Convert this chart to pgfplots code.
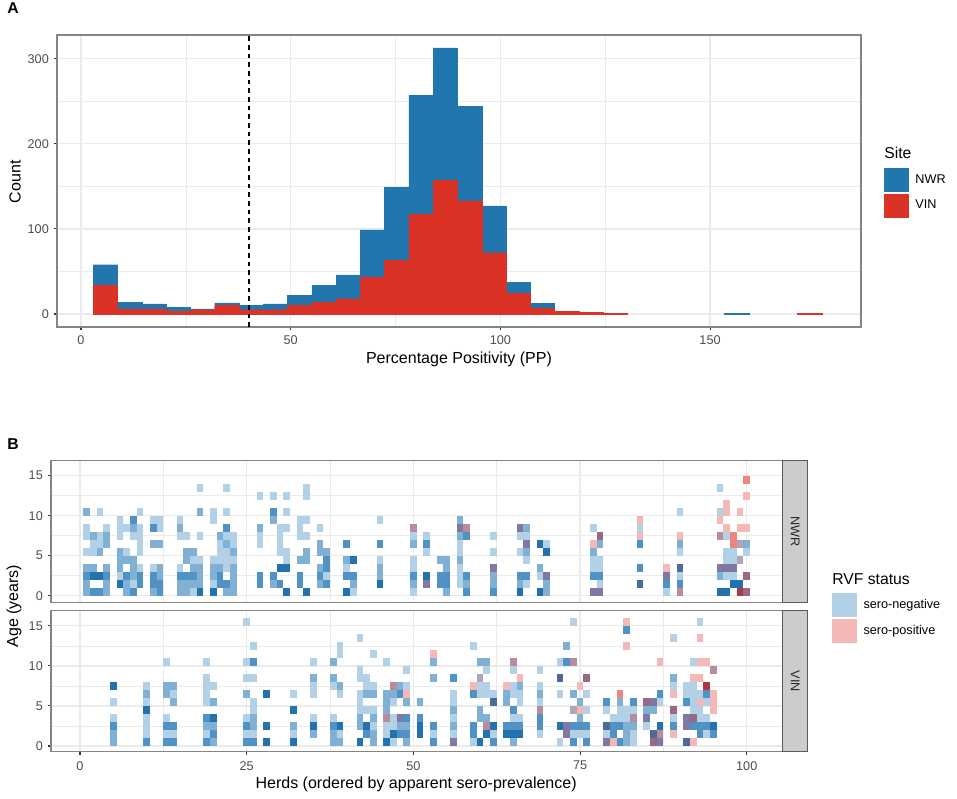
\documentclass[border=0pt]{standalone}
\usepackage{fontspec}
\setmainfont{Liberation Sans}
\usepackage{pgfplots}
\pgfplotsset{compat=1.18}
\usepackage{pgfplotstable}

\definecolor{nwrblue}{HTML}{2176AE}
\definecolor{vinred}{HTML}{DA3326}
\definecolor{gridc}{HTML}{EBEBEB}
\definecolor{framec}{HTML}{858585}
\definecolor{tickc}{HTML}{4D4D4D}
\definecolor{lightblue}{HTML}{B3D1E6}
\definecolor{lightred}{HTML}{F4B9B7}

\newcommand{\tickfont}{\fontsize{9.5}{11}\selectfont}
\newcommand{\labfont}{\fontsize{12}{14}\selectfont}
\newcommand{\ttlfont}{\fontsize{11.8}{14}\selectfont}

% one tile: one herd wide, one year high
\pgfdeclareplotmark{tile}{%
  \pgfpathrectangle{\pgfpoint{-2.5pt}{-3pt}}{\pgfpoint{5pt}{6pt}}%
  \pgfusepathqfill}

\pgfplotstableread{
x total vin
5.82 58 34
11.61 14 6
17.40 12 6
23.19 8 3
28.98 6 5
34.77 13 10
40.56 10 5
46.35 12 5
52.14 22 10
57.93 34 14
63.72 46 18
69.51 99 43
75.30 149 63
81.09 257 117
86.88 313 157
92.67 244 133
98.46 127 72
104.25 37 24
110.04 12.5 7
115.83 3 3
121.62 2 2
127.41 1 1
156.36 1 nan
173.73 1 1
}\histtable

\pgfplotsset{
  ggbase/.style={
    scale only axis,
    tick align=outside,
    tick pos=left,
    major tick length=2.6pt,
    minor tick length=0pt,
    tick style={color=tickc!70!black,line width=0.8pt},
    axis line style={color=framec,line width=0.85pt},
    grid=both,
    major grid style={color=gridc,line width=0.9pt},
    minor grid style={color=gridc,line width=0.45pt},
    minor tick num=1,
    tick label style={font=\tickfont,text=tickc},
    /pgf/number format/assume math mode=true,
    scaled ticks=false,
    xlabel style={font=\labfont},
    ylabel style={font=\labfont},
    legend cell align=left,
    legend style={draw=none,fill=none,inner sep=0pt,row sep=1.2pt,
      nodes={font=\tickfont,inner xsep=5.5pt,inner ysep=0pt}},
  },
  swatch/.style={legend image code/.code={\fill[#1] (0pt,-8.7pt) rectangle (17.5pt,8.7pt);}},
  tiles/.style={
    scatter,only marks,forget plot,mark=tile,
    point meta=explicit symbolic,
    scatter/classes={
      a={fill=lightblue},
      b={fill=HTMLb},
      c={fill=HTMLc},
      d={fill=HTMLd},
      p={fill=lightred},
      q={fill=HTMLq},
      u={fill=HTMLu},
      v={fill=HTMLv},
      w={fill=HTMLw},
      m={fill=HTMLm},
      k={fill=HTMLk},
      r={fill=HTMLr}
    }
  }
}
\definecolor{HTMLb}{HTML}{80B1D4}
\definecolor{HTMLc}{HTML}{4F92C3}
\definecolor{HTMLd}{HTML}{2272AE}
\definecolor{HTMLq}{HTML}{EC8580}
\definecolor{HTMLu}{HTML}{AFA3BE}
\definecolor{HTMLv}{HTML}{7F78A3}
\definecolor{HTMLw}{HTML}{4D6A99}
\definecolor{HTMLm}{HTML}{B88C9C}
\definecolor{HTMLk}{HTML}{9A6880}
\definecolor{HTMLr}{HTML}{A63A4A}

\begin{document}
\begin{tikzpicture}
\path[use as bounding box] (0,0) rectangle (717.75pt,-599.25pt);

% panel A
\begin{axis}[
  ggbase,
  at={(42.75pt,-26.25pt)},anchor=north west,
  width=603pt,height=219pt,
  xmin=-5.72,xmax=186,ymin=-15.3,ymax=328,
  xtick={0,50,100,150},ytick={0,100,200,300},
  xlabel={Percentage Positivity (PP)},
  xlabel style={at={(axis description cs:0.5,-0.11)},anchor=center},
  ylabel={Count},
  ylabel style={at={(axis description cs:-0.052,0.497)},anchor=center},
  legend style={at={(axis description cs:1.0286,0.5445)},anchor=north west},
]
\addlegendimage{swatch=nwrblue}
\addlegendimage{swatch=vinred}
\addplot[ybar,bar width=5.79,bar shift=0pt,fill=nwrblue,draw=nwrblue,line width=0.2pt,forget plot]
  table[x=x,y=total] {\histtable};
\addplot[ybar,bar width=5.79,bar shift=0pt,fill=vinred,draw=vinred,line width=0.2pt,forget plot]
  table[x=x,y=vin] {\histtable};
\addplot[black,line width=1.2pt,dash pattern=on 3.5pt off 3pt,forget plot]
  coordinates {(40,-15.3) (40,328)};
\legend{NWR,VIN}
\end{axis}

% panel B, NWR
\begin{axis}[
  ggbase,
  at={(38.25pt,-345.5pt)},anchor=north west,
  width=548.8pt,height=106.2pt,
  xmin=-4.35,xmax=105.4,ymin=-0.82,ymax=16.87,
  xtick={0,25,50,75,100},ytick={0,5,10,15},
  xticklabels={},
  xtick style={draw=none},
]
\addplot[tiles] coordinates {
(1,0.5)[b] (1,1.5)[b] (1,2.5)[c] (1,3.5)[b] (1,5.5)[a] (1,7.5)[a] (1,8.5)[a] (1,10.5)[b]
(2,0.5)[c] (2,2.5)[d] (2,3.5)[b] (2,5.5)[a] (2,6.5)[a] (2,7.5)[b]
(3,0.5)[c] (3,2.5)[d] (3,5.5)[b] (3,6.5)[a] (3,7.5)[a] (3,10.5)[a]
(4,0.5)[b] (4,1.5)[b] (4,2.5)[c] (4,3.5)[b] (4,6.5)[b] (4,7.5)[b] (4,8.5)[a]
(6,1.5)[d] (6,2.5)[a] (6,3.5)[b] (6,4.5)[b] (6,5.5)[b] (6,7.5)[a] (6,8.5)[a] (6,9.5)[a]
(7,0.5)[b] (7,1.5)[b] (7,2.5)[c] (7,4.5)[b] (7,5.5)[a] (7,8.5)[a]
(8,0.5)[c] (8,1.5)[a] (8,2.5)[b] (8,3.5)[b] (8,4.5)[b] (8,7.5)[a] (8,8.5)[b] (8,9.5)[c]
(9,1.5)[c] (9,2.5)[c] (9,3.5)[a] (9,5.5)[a] (9,6.5)[a] (9,7.5)[a] (9,8.5)[a] (9,10.5)[a]
(11,0.5)[b] (11,1.5)[c] (11,2.5)[c] (11,3.5)[a] (11,6.5)[b] (11,8.5)[c] (11,9.5)[a]
(12,0.5)[c] (12,1.5)[c] (12,2.5)[b] (12,3.5)[b] (12,6.5)[b] (12,8.5)[a] (12,9.5)[a]
(15,0.5)[b] (15,1.5)[b] (15,2.5)[c] (15,3.5)[a] (15,7.5)[a] (15,8.5)[b] (15,9.5)[a]
(16,0.5)[b] (16,1.5)[b] (16,2.5)[c] (16,4.5)[b] (16,5.5)[b] (16,7.5)[a]
(17,0.5)[a] (17,1.5)[b] (17,2.5)[c] (17,3.5)[b] (17,4.5)[a] (17,5.5)[b]
(18,0.5)[d] (18,1.5)[b] (18,2.5)[b] (18,3.5)[b] (18,4.5)[a] (18,7.5)[a] (18,10.5)[b] (18,13.5)[a]
(20,0.5)[d] (20,1.5)[a] (20,2.5)[b] (20,3.5)[b] (20,4.5)[a] (20,9.5)[a] (20,10.5)[a]
(21,1.5)[c] (21,2.5)[c] (21,3.5)[b] (21,4.5)[a] (21,5.5)[a] (21,6.5)[a] (21,7.5)[b]
(22,0.5)[b] (22,1.5)[c] (22,3.5)[a] (22,4.5)[a] (22,5.5)[a] (22,6.5)[b] (22,7.5)[a] (22,8.5)[c] (22,10.5)[a] (22,13.5)[a]
(23,0.5)[b] (23,1.5)[b] (23,2.5)[b] (23,3.5)[b] (23,4.5)[a] (23,5.5)[b] (23,6.5)[a] (23,7.5)[a]
(27,1.5)[c] (27,2.5)[c] (27,6.5)[a] (27,7.5)[a] (27,8.5)[b] (27,12.5)[a]
(29,1.5)[b] (29,2.5)[c] (29,9.5)[b] (29,10.5)[c] (29,12.5)[a]
(30,1.5)[c] (30,3.5)[d] (30,5.5)[a] (30,6.5)[a] (30,7.5)[a] (30,8.5)[a]
(31,0.5)[d] (31,3.5)[d] (31,4.5)[a] (31,5.5)[a] (31,8.5)[a] (31,10.5)[a] (31,12.5)[a]
(33,1.5)[c] (33,2.5)[c] (33,4.5)[b] (33,7.5)[a] (33,8.5)[a] (33,9.5)[a]
(34,0.5)[d] (34,4.5)[b] (34,5.5)[b] (34,7.5)[a] (34,9.5)[a] (34,12.5)[a] (34,13.5)[a]
(36,1.5)[b] (36,2.5)[c] (36,3.5)[b] (36,5.5)[b] (36,6.5)[b] (36,8.5)[a]
(37,1.5)[c] (37,2.5)[a] (37,3.5)[c] (37,4.5)[c] (37,5.5)[b]
(40,0.5)[d] (40,2.5)[c] (40,3.5)[a] (40,4.5)[b] (40,6.5)[c]
(41,0.5)[a] (41,1.5)[b] (41,2.5)[c] (41,4.5)[d]
(45,1.5)[d] (45,2.5)[b] (45,3.5)[b] (45,4.5)[a] (45,6.5)[c] (45,9.5)[a]
(50,0.5)[a] (50,1.5)[b] (50,2.5)[c] (50,3.5)[a] (50,4.5)[a] (50,6.5)[b] (50,7.5)[a] (50,8.5)[m]
(52,1.5)[v] (52,2.5)[d] (52,5.5)[a] (52,6.5)[c] (52,7.5)[a]
(54,1.5)[c] (54,2.5)[c] (54,4.5)[b]
(55,0.5)[b] (55,1.5)[c] (55,2.5)[c] (55,3.5)[b] (55,4.5)[b]
(57,1.5)[a] (57,2.5)[a] (57,3.5)[a] (57,4.5)[b] (57,5.5)[a] (57,6.5)[a] (57,7.5)[b] (57,8.5)[v] (57,9.5)[b]
(58,0.5)[c] (58,1.5)[b] (58,2.5)[c] (58,7.5)[c] (58,8.5)[m]
(62,0.5)[c] (62,1.5)[b] (62,2.5)[b] (62,3.5)[v] (62,5.5)[a] (62,7.5)[a]
(66,0.5)[d] (66,1.5)[b] (66,2.5)[c] (66,5.5)[a] (66,7.5)[a] (66,8.5)[v]
(67,1.5)[a] (67,2.5)[c] (67,4.5)[a] (67,5.5)[b] (67,6.5)[v] (67,7.5)[a] (67,8.5)[b]
(69,0.5)[d] (69,2.5)[a] (69,3.5)[b] (69,6.5)[d]
(70,0.5)[b] (70,1.5)[b] (70,2.5)[v] (70,5.5)[d] (70,6.5)[a]
(77,0.5)[v] (77,2.5)[c] (77,3.5)[a] (77,4.5)[a] (77,5.5)[b] (77,6.5)[p] (77,8.5)[a]
(78,0.5)[v] (78,1.5)[a] (78,2.5)[c] (78,3.5)[a] (78,4.5)[a] (78,6.5)[b] (78,7.5)[k]
(84,1.5)[w] (84,3.5)[c] (84,6.5)[c] (84,7.5)[p] (84,8.5)[a] (84,9.5)[p]
(88,0.5)[a] (88,1.5)[c] (88,2.5)[v] (88,3.5)[p]
(90,0.5)[m] (90,1.5)[c] (90,2.5)[a] (90,3.5)[w] (90,5.5)[a] (90,6.5)[b] (90,7.5)[p] (90,10.5)[a]
(96,0.5)[d] (96,2.5)[b] (96,3.5)[v] (96,7.5)[m] (96,9.5)[p] (96,10.5)[a] (96,13.5)[a]
(97,0.5)[d] (97,2.5)[a] (97,3.5)[v] (97,4.5)[a] (97,5.5)[a] (97,7.5)[a] (97,8.5)[p] (97,10.5)[p] (97,11.5)[p]
(98,1.5)[d] (98,2.5)[a] (98,3.5)[v] (98,4.5)[a] (98,5.5)[a] (98,6.5)[q] (98,7.5)[q]
(99,0.5)[r] (99,1.5)[d] (99,4.5)[u] (99,6.5)[u] (99,8.5)[p] (99,10.5)[p]
(100,0.5)[k] (100,2.5)[k] (100,5.5)[a] (100,6.5)[b] (100,8.5)[p] (100,12.5)[p] (100,14.5)[q]
};
\end{axis}

% panel B, VIN
\begin{axis}[
  ggbase,
  at={(38.25pt,-458pt)},anchor=north west,
  width=548.8pt,height=105.75pt,
  xmin=-4.35,xmax=105.4,ymin=-0.71,ymax=16.9,
  xtick={0,25,50,75,100},ytick={0,5,10,15},
  xticklabel style={yshift=-1pt},
  xlabel={Herds (ordered by apparent sero-prevalence)},
  xlabel style={at={(axis description cs:0.499,-0.23)},anchor=center},
  legend style={at={(axis description cs:1.0674,1.1255)},anchor=north west},
]
\addlegendimage{swatch=lightblue}
\addlegendimage{swatch=lightred}
\addplot[tiles] coordinates {
(5,0.5)[b] (5,1.5)[b] (5,2.5)[c] (5,3.5)[a] (5,5.5)[a] (5,7.5)[d]
(10,0.5)[c] (10,1.5)[a] (10,2.5)[a] (10,3.5)[a] (10,4.5)[d] (10,5.5)[a] (10,6.5)[b] (10,7.5)[a]
(13,0.5)[c] (13,1.5)[a] (13,2.5)[c] (13,3.5)[a] (13,6.5)[b] (13,7.5)[b] (13,10.5)[a]
(14,0.5)[c] (14,1.5)[a] (14,2.5)[c] (14,5.5)[b] (14,6.5)[a] (14,7.5)[b]
(19,0.5)[c] (19,1.5)[a] (19,2.5)[b] (19,3.5)[c] (19,5.5)[a] (19,6.5)[a] (19,7.5)[a] (19,8.5)[a] (19,10.5)[a]
(20,0.5)[b] (20,1.5)[c] (20,2.5)[b] (20,3.5)[d] (20,5.5)[b] (20,7.5)[a]
(25,0.5)[c] (25,1.5)[a] (25,2.5)[c] (25,3.5)[a] (25,6.5)[b] (25,8.5)[a] (25,10.5)[a] (25,15.5)[a]
(26,0.5)[c] (26,1.5)[a] (26,2.5)[b] (26,3.5)[b] (26,4.5)[a] (26,5.5)[a] (26,8.5)[a] (26,10.5)[c] (26,12.5)[a]
(28,0.5)[d] (28,2.5)[d] (28,6.5)[d]
(32,0.5)[d] (32,1.5)[a] (32,2.5)[b] (32,4.5)[d] (32,6.5)[a]
(35,1.5)[b] (35,2.5)[d] (35,3.5)[a] (35,6.5)[a] (35,7.5)[a] (35,8.5)[b] (35,10.5)[a]
(38,0.5)[b] (38,1.5)[b] (38,2.5)[c] (38,3.5)[a] (38,7.5)[a] (38,8.5)[b] (38,10.5)[b]
(39,0.5)[b] (39,1.5)[a] (39,2.5)[d] (39,6.5)[a] (39,7.5)[b] (39,11.5)[a] (39,12.5)[a]
(42,0.5)[d] (42,2.5)[b] (42,3.5)[b] (42,4.5)[a] (42,5.5)[a] (42,6.5)[a] (42,8.5)[a] (42,9.5)[a] (42,13.5)[a]
(43,1.5)[c] (43,2.5)[d] (43,4.5)[a] (43,6.5)[b] (43,7.5)[a] (43,8.5)[a]
(44,0.5)[b] (44,1.5)[b] (44,2.5)[a] (44,3.5)[b] (44,4.5)[a] (44,6.5)[b] (44,7.5)[a] (44,11.5)[a]
(46,0.5)[d] (46,1.5)[a] (46,2.5)[a] (46,3.5)[m] (46,4.5)[b] (46,5.5)[b] (46,6.5)[b] (46,10.5)[a]
(47,0.5)[a] (47,1.5)[d] (47,2.5)[a] (47,3.5)[a] (47,5.5)[a] (47,6.5)[b] (47,7.5)[m]
(48,1.5)[c] (48,2.5)[b] (48,3.5)[v] (48,6.5)[c] (48,7.5)[b]
(49,0.5)[b] (49,1.5)[c] (49,2.5)[b] (49,3.5)[c] (49,5.5)[b] (49,6.5)[p] (49,7.5)[a] (49,9.5)[a]
(51,1.5)[d] (51,2.5)[d] (51,3.5)[c] (51,5.5)[b]
(53,0.5)[c] (53,1.5)[a] (53,2.5)[c] (53,8.5)[b] (53,10.5)[b] (53,11.5)[p]
(56,0.5)[v] (56,1.5)[a] (56,2.5)[b] (56,3.5)[a] (56,4.5)[b] (56,5.5)[a] (56,6.5)[a] (56,8.5)[c]
(59,0.5)[a] (59,1.5)[c] (59,2.5)[c] (59,6.5)[c] (59,7.5)[p] (59,12.5)[a]
(60,0.5)[d] (60,3.5)[b] (60,4.5)[b] (60,6.5)[a] (60,7.5)[a] (60,8.5)[u] (60,10.5)[b]
(61,1.5)[d] (61,2.5)[m] (61,3.5)[b] (61,6.5)[a] (61,7.5)[a] (61,9.5)[a] (61,10.5)[b]
(62,0.5)[c] (62,1.5)[a] (62,2.5)[d] (62,5.5)[w] (62,6.5)[a]
(64,1.5)[d] (64,2.5)[c] (64,5.5)[b] (64,6.5)[b] (64,7.5)[p]
(65,0.5)[b] (65,1.5)[d] (65,2.5)[c] (65,3.5)[a] (65,4.5)[c] (65,6.5)[a] (65,7.5)[a] (65,9.5)[a] (65,10.5)[m]
(66,1.5)[d] (66,2.5)[c] (66,3.5)[a] (66,5.5)[a] (66,6.5)[a] (66,7.5)[b] (66,8.5)[p]
(69,1.5)[a] (69,2.5)[c] (69,3.5)[c] (69,4.5)[m] (69,5.5)[a] (69,6.5)[b] (69,7.5)[a] (69,9.5)[a]
(72,0.5)[a] (72,2.5)[d] (72,6.5)[a] (72,8.5)[w] (72,10.5)[a]
(73,1.5)[v] (73,2.5)[v] (73,10.5)[c] (73,12.5)[b]
(74,0.5)[c] (74,1.5)[a] (74,2.5)[c] (74,4.5)[u] (74,6.5)[b] (74,10.5)[m] (74,15.5)[a]
(75,1.5)[a] (75,2.5)[c] (75,3.5)[b] (75,4.5)[p] (75,5.5)[b] (75,7.5)[p]
(76,0.5)[c] (76,1.5)[a] (76,2.5)[c] (76,4.5)[a] (76,6.5)[a] (76,8.5)[k]
(79,0.5)[v] (79,1.5)[a] (79,2.5)[w] (79,4.5)[a] (79,5.5)[c]
(80,0.5)[p] (80,1.5)[c] (80,2.5)[c] (80,3.5)[a]
(81,0.5)[c] (81,2.5)[c] (81,3.5)[a] (81,4.5)[a] (81,5.5)[b] (81,6.5)[q]
(82,0.5)[b] (82,1.5)[b] (82,2.5)[b] (82,3.5)[a] (82,4.5)[a] (82,12.5)[p] (82,14.5)[c] (82,15.5)[p]
(83,0.5)[a] (83,1.5)[a] (83,2.5)[b] (83,3.5)[m] (83,4.5)[a] (83,5.5)[c]
(85,2.5)[a] (85,3.5)[v] (85,4.5)[b] (85,5.5)[k]
(86,0.5)[k] (86,1.5)[w] (86,4.5)[b] (86,5.5)[v]
(87,0.5)[v] (87,1.5)[m] (87,2.5)[d] (87,5.5)[a] (87,6.5)[c] (87,10.5)[p]
(89,1.5)[p] (89,2.5)[c] (89,3.5)[a] (89,4.5)[k] (89,6.5)[p] (89,7.5)[a] (89,8.5)[b] (89,13.5)[a]
(91,0.5)[w] (91,2.5)[v] (91,3.5)[v] (91,5.5)[c] (91,6.5)[a] (91,7.5)[a]
(92,0.5)[p] (92,2.5)[c] (92,3.5)[k] (92,4.5)[a] (92,5.5)[a] (92,6.5)[a] (92,7.5)[a] (92,8.5)[p] (92,10.5)[a]
(93,1.5)[c] (93,2.5)[c] (93,3.5)[a] (93,4.5)[a] (93,5.5)[p] (93,6.5)[a] (93,8.5)[p] (93,10.5)[p] (93,13.5)[p] (93,15.5)[a]
(94,1.5)[a] (94,2.5)[c] (94,3.5)[a] (94,5.5)[a] (94,6.5)[c] (94,7.5)[r] (94,10.5)[p]
(95,1.5)[c] (95,2.5)[d] (95,4.5)[p] (95,5.5)[p] (95,6.5)[p] (95,9.5)[m]
};
\legend{sero-negative,sero-positive}
\end{axis}

% panel letters, legend titles, facet strips (coordinates in reference pixels)
\begin{scope}[x=0.75pt,y=-0.75pt]
\node[anchor=center,font=\ttlfont\bfseries] at (13,8) {A};
\node[anchor=center,font=\ttlfont\bfseries] at (13,444) {B};
\node[anchor=base west,font=\ttlfont,inner sep=0pt] at (884,158) {Site};
\node[anchor=base west,font=\ttlfont,inner sep=0pt] at (832,584) {RVF status};
\node[rotate=90,anchor=center,font=\labfont] at (14,606) {Age (years)};
\foreach \ya/\yb/\nm in {460.7/602.3/NWR,610.7/751.7/VIN}{
  \draw[fill=black!20,draw=black!65,line width=0.9pt] (782.7,\ya) rectangle (807.7,\yb);
  \node[rotate=-90,anchor=center,font=\tickfont,text=black!85] at (795.2,{(\ya+\yb)/2}) {\nm};
}
\end{scope}
\end{tikzpicture}
\end{document}
